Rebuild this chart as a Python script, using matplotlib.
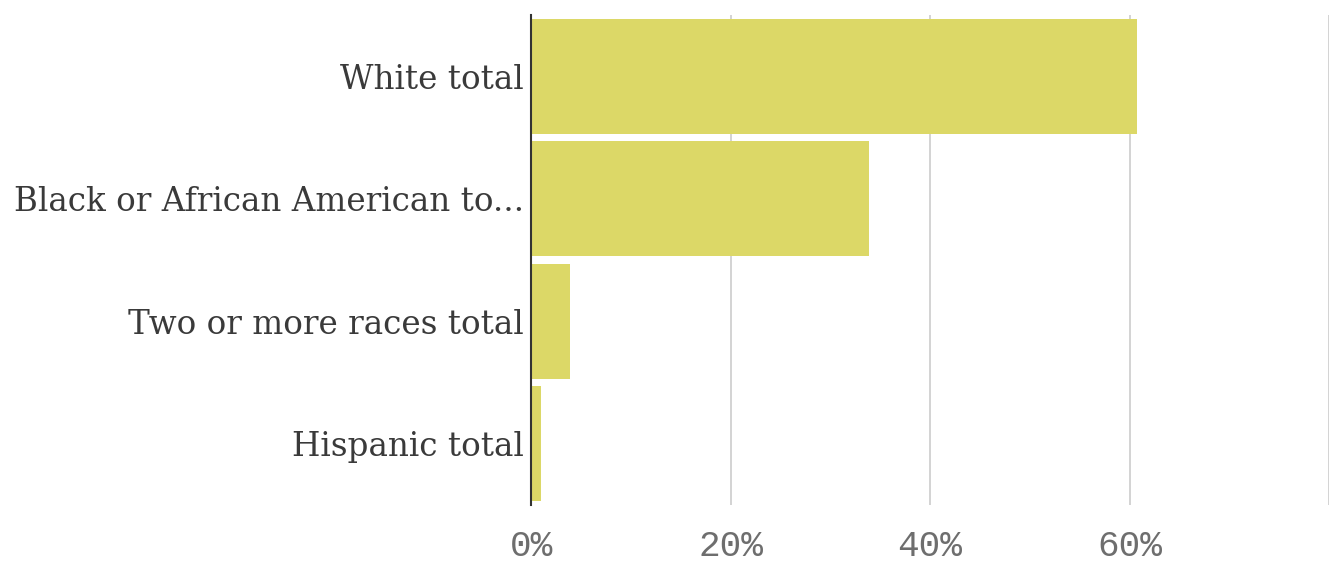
import matplotlib
matplotlib.use('Agg')
from matplotlib import pyplot as plt

categories = ['White total', 'Black or African American to...', 'Two or more races total', 'Hispanic total']
shares = [60.8, 33.9, 3.9, 1.0]
x_ticks = [0, 20, 40, 60, 80]
tick_labels = ['0%', '20%', '40%', '60%', '']

BAR_COLOR = '#dcd867'

fig = plt.figure(figsize=(13.31, 5.63), dpi=100)
ax = fig.add_axes([531 / 1331, 1 - 505 / 563, 798 / 1331, 490 / 563])

pos = list(range(len(categories)))
ax.barh(pos, shares, height=0.94, color=BAR_COLOR, zorder=2)
ax.set_ylim(len(categories) - 0.5, -0.5)
ax.set_xlim(0, 80)

ax.set_xticks(x_ticks)
ax.set_xticklabels(tick_labels, family='Liberation Mono', fontsize=26, color='#6e6e6e')
ax.set_yticks(pos)
ax.set_yticklabels(categories, family='DejaVu Serif', fontsize=23.5, color='#3a3a3a')
ax.tick_params(length=0)
ax.tick_params(axis='x', pad=17)
ax.tick_params(axis='y', pad=5)

ax.grid(axis='x', color='#cccccc', linewidth=1.2, zorder=1)
for side in ['top', 'right', 'bottom']:
    ax.spines[side].set_visible(False)
ax.spines['left'].set_color('#333333')
ax.spines['left'].set_linewidth(1.5)
ax.spines['left'].set_zorder(3)

fig.savefig('out.png', dpi=100, facecolor='white')
